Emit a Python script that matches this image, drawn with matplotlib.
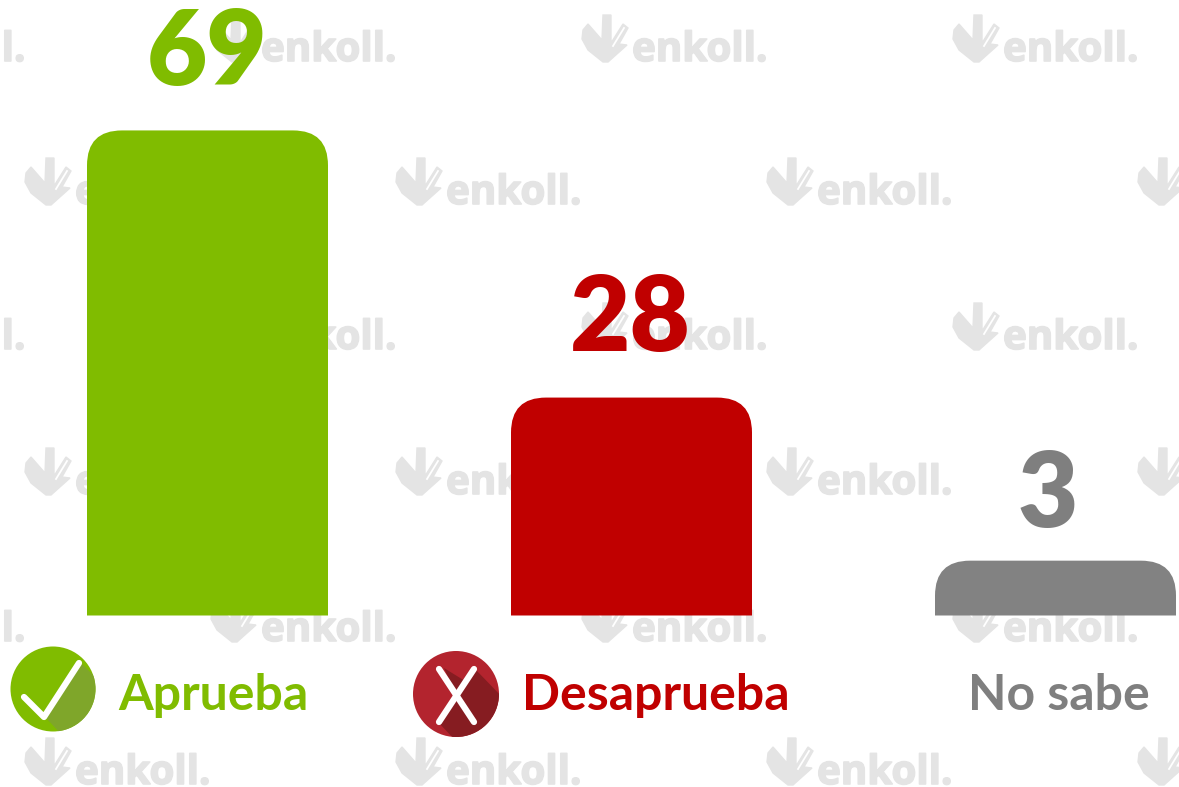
import matplotlib
matplotlib.use('Agg')
import matplotlib.pyplot as plt
import matplotlib.patheffects as pe
from matplotlib.patches import Circle, PathPatch, Polygon
from matplotlib.path import Path

categorias = ['Aprueba', 'Desaprueba', 'No sabe']
valores = [69, 28, 3]
# las barras del original no son proporcionales a la etiqueta: alturas
alturas = [69, 31, 7.8]
colores_barra = ['#80BC00', '#C00000', '#828282']
colores_texto = ['#80BC00', '#C00000', '#7F7F7F']

W, H = 1179, 787
ESCALA = 7.03     # px por unidad
BASE = 615.5      # px de la linea base
PASO = 424        # px entre barras
RADIO = 35

fig = plt.figure(figsize=(W/100, H/100), dpi=100)
fondo = fig.add_axes([0, 0, 1, 1], zorder=0)
fondo.set_xlim(0, W)
fondo.set_ylim(H, 0)
fondo.axis('off')

# marca de agua
GRIS = '#E4E4E4'
def marca(x, y):
    pts = [(1, 15), (6, 9), (20, 25), (21, 0), (29, 0), (29, 28), (41, 9), (46, 13),
           (37, 29), (45, 30), (26, 47), (21, 47), (6, 35), (0, 24)]
    fondo.add_patch(Polygon([(x+a, y+b) for a, b in pts], closed=True, fc=GRIS, ec=GRIS, lw=1, zorder=1))
    fondo.plot([x+31, x+42], [y+31, y+13], color='white', lw=1.3, zorder=2)
    fondo.text(x+50, y+46, 'enkoll.', color=GRIS, fontsize=29, fontweight='bold',
               family='Open Sans', va='baseline', ha='left', zorder=2,
               path_effects=[pe.withStroke(linewidth=1.2, foreground=GRIS)])

for y, desde in [(15, 211), (158, 25), (303, 211), (448, 25), (595, 211), (738, 25)]:
    for i in range(-1, 3 if desde == 211 else 4):
        marca(desde + i*371, y)

# barras
ax = fig.add_axes([0, 0, 1, 1], zorder=1)
ax.patch.set_alpha(0)
ax.set_xlim(-207.5/PASO, (W-207.5)/PASO)
ax.set_ylim((BASE-H)/ESCALA, BASE/ESCALA)
ax.axis('off')

def barra(x, h, color):
    a = 241/PASO/2
    rx, ry = RADIO/PASO, RADIO/ESCALA
    v = [(x-a, 0), (x-a, h-ry), (x-a, h), (x-a+rx, h), (x+a-rx, h), (x+a, h), (x+a, h-ry), (x+a, 0), (x-a, 0)]
    c = [Path.MOVETO, Path.LINETO, Path.CURVE3, Path.CURVE3, Path.LINETO, Path.CURVE3, Path.CURVE3, Path.LINETO, Path.CLOSEPOLY]
    ax.add_patch(PathPatch(Path(v, c), fc=color, ec='none'))

desp_valor = [(0, 45), (-1, 47), (-8, 34)]
x_cat = [118, 522, 968]
for i, (cat, val, h) in enumerate(zip(categorias, valores, alturas)):
    barra(i, h, colores_barra[i])
    dx, dy = desp_valor[i]
    ax.annotate(str(val), (i, h), xytext=(dx*0.72, dy*0.72), textcoords='offset points',
                ha='center', va='baseline', color=colores_texto[i], fontsize=75,
                fontweight='heavy', family='Lato')
    fondo.text(x_cat[i], 710, cat, color=colores_texto[i], fontsize=36, fontweight='bold',
               family='Lato', va='baseline', ha='left', zorder=5)

# iconos
c1 = Circle((53, 689), 42.5, fc='#80BC00', ec='none', zorder=5)
fondo.add_patch(c1)
s1 = Polygon([(81, 663), (46, 718), (62, 735), (110, 735), (110, 692)], fc='#7FA62A', ec='none', zorder=6)
fondo.add_patch(s1)
s1.set_clip_path(c1)
fondo.plot([24, 44, 79], [697, 717, 663], color='white', lw=4.5, solid_capstyle='round',
           solid_joinstyle='round', zorder=7)

c2 = Circle((456, 694), 43, fc='#B3242E', ec='none', zorder=5)
fondo.add_patch(c2)
s2 = Polygon([(444, 668), (465, 681), (476, 670), (505, 700), (505, 740), (455, 740), (438, 722), (456, 695)],
             fc='#861C21', ec='none', zorder=6)
fondo.add_patch(s2)
s2.set_clip_path(c2)
fondo.plot([439, 474], [669, 722], color='white', lw=4.5, solid_capstyle='round', zorder=7)
fondo.plot([474, 439], [669, 722], color='white', lw=4.5, solid_capstyle='round', zorder=7)

plt.savefig('out.png', dpi=100)
